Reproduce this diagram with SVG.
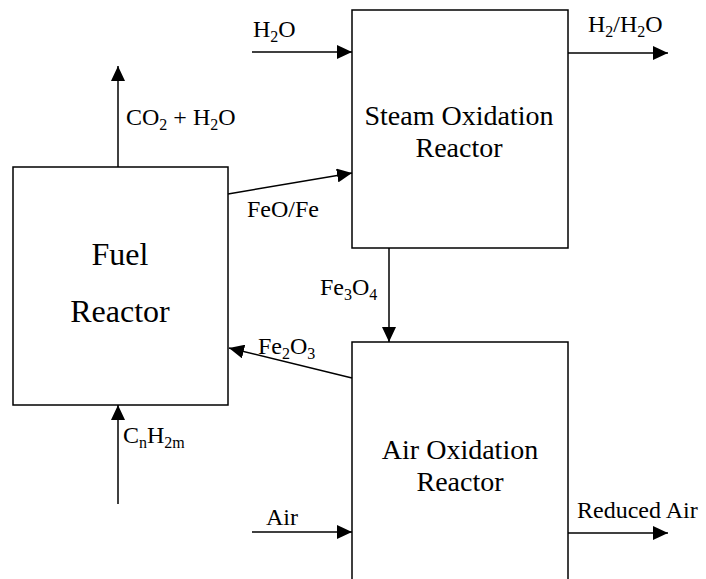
<svg xmlns="http://www.w3.org/2000/svg" width="706" height="579" viewBox="0 0 706 579">
<style>
.box{fill:#fff;stroke:#000;stroke-width:1.5}
.ln{fill:none;stroke:#000;stroke-width:1.5;marker-end:url(#ah)}
text{font-family:"Liberation Serif","Times New Roman",serif;fill:#000}
.big{font-size:32px;text-anchor:middle}
.mid{font-size:28px;text-anchor:middle}
.lbl{font-size:24px}
.sub{font-size:16px}
</style>
<defs>
<marker id="ah" markerUnits="userSpaceOnUse" markerWidth="15" markerHeight="14" refX="15" refY="7" orient="auto">
<path d="M0,0 L15,7 L0,14 z" fill="#000"/>
</marker>
</defs>
<rect width="706" height="579" fill="#fff"/>
<g id="fuel-reactor">
<rect class="box" x="13" y="167" width="215" height="238"/>
<text class="big" x="120" y="265">Fuel</text>
<text class="big" x="120" y="322">Reactor</text>
</g>
<g id="steam-oxidation-reactor">
<rect class="box" x="352" y="10" width="216" height="238"/>
<text class="mid" x="459" y="125">Steam Oxidation</text>
<text class="mid" x="459" y="157">Reactor</text>
</g>
<g id="air-oxidation-reactor">
<rect class="box" x="352" y="342" width="216" height="260"/>
<text class="mid" x="460" y="459">Air Oxidation</text>
<text class="mid" x="460" y="491">Reactor</text>
</g>
<g id="connectors">
<line class="ln" x1="118" y1="167" x2="118" y2="66"/>
<line class="ln" x1="228" y1="194" x2="352" y2="173"/>
<line class="ln" x1="252" y1="52" x2="352" y2="52"/>
<line class="ln" x1="568" y1="53" x2="668" y2="53"/>
<line class="ln" x1="389" y1="248" x2="389" y2="342"/>
<line class="ln" x1="352" y1="378" x2="229" y2="348"/>
<line class="ln" x1="118" y1="504" x2="118" y2="405"/>
<line class="ln" x1="252" y1="532" x2="352" y2="532"/>
<line class="ln" x1="568" y1="533" x2="668" y2="533"/>
</g>
<g id="labels">
<text class="lbl" x="126" y="125">CO<tspan class="sub" dy="5">2</tspan><tspan dy="-5"> + H</tspan><tspan class="sub" dy="5">2</tspan><tspan dy="-5">O</tspan></text>
<text class="lbl" x="247" y="217">FeO/Fe</text>
<text class="lbl" x="253" y="37">H<tspan class="sub" dy="5">2</tspan><tspan dy="-5">O</tspan></text>
<text class="lbl" x="588" y="32">H<tspan class="sub" dy="5">2</tspan><tspan dy="-5">/H</tspan><tspan class="sub" dy="5">2</tspan><tspan dy="-5">O</tspan></text>
<text class="lbl" x="320" y="295">Fe<tspan class="sub" dy="5">3</tspan><tspan dy="-5">O</tspan><tspan class="sub" dy="5">4</tspan></text>
<text class="lbl" x="258" y="354">Fe<tspan class="sub" dy="5">2</tspan><tspan dy="-5">O</tspan><tspan class="sub" dy="5">3</tspan></text>
<text class="lbl" x="123" y="443">C<tspan class="sub" dy="5">n</tspan><tspan dy="-5">H</tspan><tspan class="sub" dy="5">2m</tspan></text>
<text class="lbl" x="266" y="525">Air</text>
<text class="lbl" x="577" y="518">Reduced Air</text>
</g>
</svg>
